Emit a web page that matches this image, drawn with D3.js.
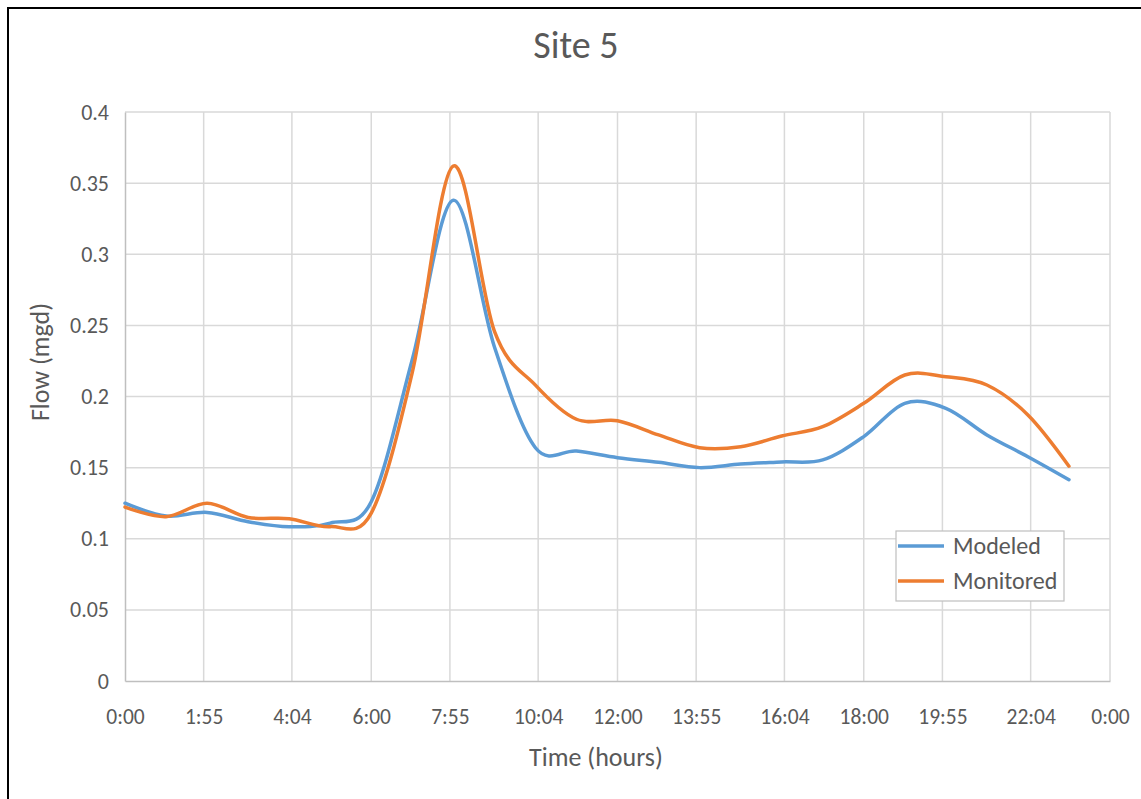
<!DOCTYPE html>
<html>
<head>
<meta charset="utf-8">
<script src="https://cdn.jsdelivr.net/npm/d3@7"></script>
<style>
  html, body { margin: 0; padding: 0; background: #ffffff; }
  svg { display: block; }
  text { font-family: Carlito, Calibri, Lato, sans-serif; fill: #595959; font-weight: 300; }
</style>
</head>
<body>
<svg id="chart" width="1141" height="799"></svg>
<script>
// ---- data (hourly samples, flow in mgd) ----
const timeLabels = ["0:00","1:00","2:00","3:00","4:00","5:00","6:00","7:00","8:00","9:00","10:00","11:00",
                    "12:00","13:00","14:00","15:00","16:00","17:00","18:00","19:00","20:00","21:00","22:00","23:00"];
const modeled   = [0.125, 0.116, 0.1185, 0.112, 0.1085, 0.111, 0.126, 0.226, 0.338, 0.235, 0.164, 0.1617,
                   0.157, 0.1537, 0.150, 0.1525, 0.154, 0.1554, 0.1718, 0.1952, 0.1917, 0.173, 0.1577, 0.1415];
const monitored = [0.1222, 0.1155, 0.1249, 0.115, 0.1141, 0.1085, 0.118, 0.217, 0.362, 0.246, 0.208, 0.184,
                   0.183, 0.173, 0.164, 0.1647, 0.1722, 0.1788, 0.1952, 0.2151, 0.2139, 0.2081, 0.187, 0.151];
const seriesNames = ["Modeled", "Monitored"];
const seriesColors = ["#5B9BD5", "#ED7D31"];
const xTickMinutes = [0, 115, 244, 360, 475, 604, 720, 835, 964, 1080, 1195, 1324, 1440];
const xTickLabels  = ["0:00","1:55","4:04","6:00","7:55","10:04","12:00","13:55","16:04","18:00","19:55","22:04","0:00"];
const yTicks = [0, 0.05, 0.1, 0.15, 0.2, 0.25, 0.3, 0.35, 0.4];
const chartTitle = "Site 5";
const xTitle = "Time (hours)";
const yTitle = "Flow (mgd)";

// ---- layout ----
const svg = d3.select("#chart");
const plot = { left: 125, top: 112, right: 1110, bottom: 681 };

const toMinutes = s => { const p = s.split(":"); return (+p[0]) * 60 + (+p[1]); };

const x = d3.scaleLinear().domain([0, 1440]).range([plot.left, plot.right]);
const y = d3.scaleLinear().domain([0, 0.4]).range([plot.bottom, plot.top]);

// chart-area border (black, extends beyond the visible frame at right/bottom)
svg.append("rect")
  .attr("x", 8).attr("y", 8).attr("width", 1160).attr("height", 820)
  .attr("fill", "none").attr("stroke", "#000").attr("stroke-width", 2);

// gridlines
const grid = svg.append("g");
grid.selectAll("line.h").data(yTicks.filter(d => d > 0)).join("line")
  .attr("x1", plot.left).attr("x2", plot.right)
  .attr("y1", d => y(d)).attr("y2", d => y(d))
  .attr("stroke", "#D9D9D9").attr("stroke-width", 1.5);
grid.selectAll("line.v").data(xTickMinutes.slice(1)).join("line")
  .attr("y1", plot.top).attr("y2", plot.bottom)
  .attr("x1", d => x(d)).attr("x2", d => x(d))
  .attr("stroke", "#D9D9D9").attr("stroke-width", 1.5);

// axes
const yAxis = d3.axisLeft(y).tickValues(yTicks).tickSize(0).tickPadding(16)
  .tickFormat(d => d3.format("")(+d.toFixed(2)));
const gy = svg.append("g").attr("transform", `translate(${plot.left},0)`).call(yAxis);
gy.select(".domain").attr("stroke", "#BFBFBF").attr("stroke-width", 1.5);
gy.selectAll("text").style("font-size", "22px").attr("fill", "#595959");

const xAxis = d3.axisBottom(x).tickValues(xTickMinutes).tickSize(0).tickPadding(28)
  .tickFormat((d, i) => xTickLabels[i]);
const gx = svg.append("g").attr("transform", `translate(0,${plot.bottom})`).call(xAxis);
gx.select(".domain").attr("stroke", "#BFBFBF").attr("stroke-width", 1.5);
gx.selectAll("text").style("font-size", "21.5px").attr("fill", "#595959");

// lines
const seriesData = [modeled, monitored];
const line = d3.line()
  .x((d, i) => x(toMinutes(timeLabels[i])))
  .y(d => y(d))
  .curve(d3.curveCardinal.tension(0));
svg.append("g").selectAll("path").data(seriesData).join("path")
  .attr("d", d => line(d))
  .attr("fill", "none")
  .attr("stroke", (d, i) => seriesColors[i])
  .attr("stroke-width", 3.5)
  .attr("stroke-linejoin", "round")
  .attr("stroke-linecap", "round");

// titles
svg.append("text").attr("x", 576).attr("y", 58).attr("text-anchor", "middle")
  .style("font-size", "38px").text(chartTitle);
svg.append("text").attr("x", 596).attr("y", 766).attr("text-anchor", "middle")
  .style("font-size", "26px").text(xTitle);
svg.append("text").attr("transform", "translate(49,362) rotate(-90)").attr("text-anchor", "middle")
  .style("font-size", "26px").text(yTitle);

// legend
const lg = svg.append("g");
lg.append("rect").attr("x", 896).attr("y", 531).attr("width", 168).attr("height", 70)
  .attr("fill", "#fff").attr("stroke", "#BFBFBF").attr("stroke-width", 1.2);
const items = lg.selectAll("g.item").data(seriesNames).join("g")
  .attr("transform", (d, i) => `translate(0,${546 + i * 35})`);
items.append("line").attr("x1", 898).attr("x2", 944).attr("y1", 0).attr("y2", 0)
  .attr("stroke", (d, i) => seriesColors[i]).attr("stroke-width", 3.5);
items.append("text").attr("x", 953).attr("y", 0).attr("dy", "0.35em")
  .style("font-size", "24px").text(d => d);
</script>
</body>
</html>
